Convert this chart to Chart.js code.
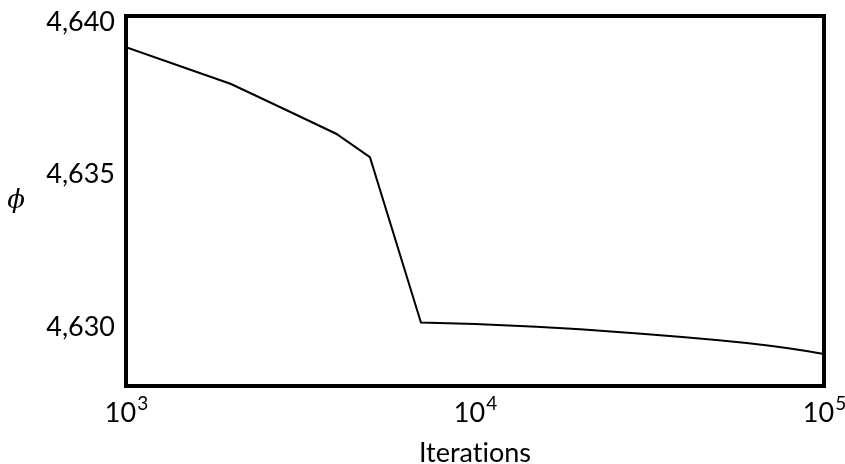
<!DOCTYPE html>
<html>
<head>
<meta charset="utf-8">
<script src="https://cdn.jsdelivr.net/npm/chart.js@4.4.1/dist/chart.umd.min.js"></script>
<style>
  html, body { margin: 0; padding: 0; background: #fff; }
  #wrap { width: 845px; height: 464px; }
</style>
</head>
<body>
<div id="wrap"><canvas id="chart"></canvas></div>
<script>
// datos
const iteraciones = [1000, 2000, 3000, 4000, 5000, 7000, 10000, 15000, 20000, 30000, 40000, 50000, 60000, 70000, 80000, 90000, 100000];
const phiValores  = [4.63914, 4.63793, 4.63698, 4.63630, 4.63553, 4.63011, 4.63006, 4.62997, 4.62989, 4.62974, 4.62963, 4.62953, 4.62944, 4.62935, 4.62926, 4.62917, 4.62908];

const yTicks = [4.630, 4.635, 4.640];
const xTicks = [1000, 10000, 100000];
const xExponentes = ['3', '4', '5'];

const FONT = 'Lato';

// "4.635" -> "4,635"
function formatComa(v) {
    return v.toFixed(3).replace('.', ',');
}

// marco negro + etiquetas de ejes + simbolo phi
const marcoPlugin = {
    id: 'marco',
    afterDraw(chart) {
        const { ctx, chartArea: a, scales } = chart;
        ctx.save();
        ctx.strokeStyle = '#000';
        ctx.lineWidth = 4;
        ctx.strokeRect(a.left, a.top, a.right - a.left, a.bottom - a.top);

        ctx.fillStyle = '#000';

        // etiquetas eje Y
        ctx.font = '27px ' + FONT;
        ctx.textAlign = 'right';
        ctx.textBaseline = 'middle';
        yTicks.forEach(v => {
            ctx.fillText(formatComa(v), a.left - 11, scales.y.getPixelForValue(v) + 1);
        });

        // etiquetas eje X (10^n)
        ctx.textBaseline = 'alphabetic';
        ctx.textAlign = 'left';
        xTicks.forEach((v, i) => {
            const x = scales.x.getPixelForValue(v);
            ctx.font = '27px ' + FONT;
            const wBase = ctx.measureText('10').width;
            ctx.font = '19px ' + FONT;
            const wExp = ctx.measureText(xExponentes[i]).width;
            const x0 = x - (wBase + wExp) / 2;
            ctx.font = '27px ' + FONT;
            ctx.fillText('10', x0, a.bottom + 36);
            ctx.font = '19px ' + FONT;
            ctx.fillText(xExponentes[i], x0 + wBase + 1, a.bottom + 24);
        });

        ctx.font = 'italic 26px "DejaVu Serif"';
        ctx.textAlign = 'center';
        ctx.textBaseline = 'middle';
        ctx.fillText('\u03D5', 16, (a.top + a.bottom) / 2);
        ctx.restore();
    }
};

new Chart(document.getElementById('chart'), {
    type: 'line',
    data: {
        labels: iteraciones,
        datasets: [{
            data: iteraciones.map((x, i) => ({ x, y: phiValores[i] })),
            borderColor: '#000',
            borderWidth: 2,
            pointRadius: 0,
            tension: 0,
            fill: false
        }]
    },
    options: {
        responsive: true,
        maintainAspectRatio: false,
        animation: false,
        layout: { padding: { left: 118, right: 21, top: 16, bottom: 0 } },
        plugins: {
            legend: { display: false },
            tooltip: { enabled: false }
        },
        scales: {
            x: {
                type: 'logarithmic',
                min: 1000,
                max: 100000,
                afterBuildTicks: s => { s.ticks = xTicks.map(v => ({ value: v })); },
                grid: { display: false },
                border: { display: false },
                ticks: { display: false },
                title: {
                    display: true,
                    // ZWNJ para evitar la ligadura "ti" de Lato
                    text: 'Iterat\u200Cions',
                    color: '#000',
                    font: { family: FONT, size: 27, lineHeight: 0.5 },
                    padding: { top: 52.5, bottom: 4 }
                }
            },
            y: {
                min: 4.62803,
                max: 4.64016,
                afterBuildTicks: s => { s.ticks = yTicks.map(v => ({ value: v })); },
                grid: { display: false },
                border: { display: false },
                ticks: { display: false }
            }
        }
    },
    plugins: [marcoPlugin]
});
</script>
</body>
</html>
